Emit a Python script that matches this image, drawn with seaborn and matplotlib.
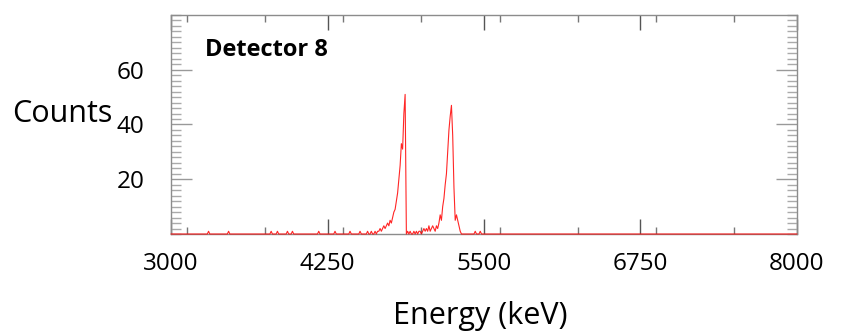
import numpy as np
import pandas as pd
import matplotlib
matplotlib.use("Agg")
import matplotlib.pyplot as plt
from matplotlib.ticker import MultipleLocator, FixedLocator
import seaborn as sns

# ---------------- data ----------------
# channel calibration of the spectrum grid (keV)
grid_start_kev = 3000
grid_end_kev = 8000
bin_width_kev = 10

# isolated single counts in the sparse regions
spike_energy_kev = [3300, 3460, 3800, 3850, 3930, 3970, 4180, 4310, 4430, 4510, 5430, 5470]
spike_counts = [1, 1, 1, 1, 1, 1, 1, 1, 1, 1, 1, 1]

# dense peak region, starting at this energy, one value per channel
peak_region_start_kev = 4560
peak_region_counts = [
    0, 1, 0, 0, 1, 0, 0, 1, 0, 1,      # 4560-4650
    1, 2, 1, 2, 3, 2, 3, 4, 3, 5,      # 4660-4750
    4, 6, 8, 9, 12, 15, 20, 25, 33, 31,  # 4760-4850
    44, 51, 0, 1, 0, 1, 0, 0, 1, 0,    # 4860-4950
    1, 0, 1, 1, 0, 1, 2, 1, 2, 1,      # 4960-5050
    3, 1, 2, 3, 2, 1, 3, 2, 4, 7,      # 5060-5150
    5, 10, 13, 18, 22, 30, 38, 43, 47, 36,  # 5160-5250
    17, 5, 7, 5, 3, 1, 0,              # 5260-5320
]

x_tick_labels = ["3000", "4250", "5500", "6750", "8000"]
y_tick_labels = ["20", "40", "60"]

# build full spectrum on the channel grid
energy = np.arange(grid_start_kev, grid_end_kev + bin_width_kev, bin_width_kev)
counts = np.zeros(len(energy))
for e, c in zip(spike_energy_kev, spike_counts):
    counts[(e - grid_start_kev) // bin_width_kev] = c
i0 = (peak_region_start_kev - grid_start_kev) // bin_width_kev
counts[i0:i0 + len(peak_region_counts)] = peak_region_counts
df = pd.DataFrame({"Energy": energy, "Counts": counts})

# ---------------- style ----------------
sns.set_style("white")
plt.rcParams["font.family"] = ["Open Sans", "DejaVu Sans"]
plt.rcParams["text.color"] = "black"
plt.rcParams["xtick.labelcolor"] = "black"
plt.rcParams["ytick.labelcolor"] = "black"
plt.rcParams["axes.labelcolor"] = "black"

fig = plt.figure(figsize=(8.45, 3.34), dpi=100)
ax = fig.add_axes([171 / 845, 1 - 234 / 334, 626 / 845, 219 / 334])

sns.lineplot(data=df, x="Energy", y="Counts", ax=ax, color="#ff0000",
             linewidth=0.8, alpha=0.85, clip_on=False, zorder=3)

ax.set_xlim(3000, 8000)
ax.set_ylim(0, 80)

ax.xaxis.set_major_locator(FixedLocator([float(t) for t in x_tick_labels]))
ax.set_xticklabels(x_tick_labels)
ax.xaxis.set_minor_locator(MultipleLocator(625))
ax.yaxis.set_major_locator(FixedLocator([float(t) for t in y_tick_labels]))
ax.set_yticklabels(y_tick_labels)
ax.yaxis.set_minor_locator(MultipleLocator(2))

spine_col = "#8c8c8c"
for s in ax.spines.values():
    s.set_color(spine_col)
    s.set_linewidth(1.0)
    s.set_visible(True)

ax.tick_params(axis="x", which="major", direction="in", length=11, width=1.0,
               color="#555555", top=True, bottom=True, labelsize=17.5, pad=13,
               labelcolor="black")
ax.tick_params(axis="x", which="minor", direction="in", length=5, width=1.0,
               color="#777777", top=True, bottom=True)
ax.tick_params(axis="y", which="major", direction="in", length=15, width=1.0,
               color="#999999", left=True, right=True, labelsize=17.5, pad=19,
               labelcolor="black")
ax.tick_params(axis="y", which="minor", direction="in", length=7.5, width=1.0,
               color="#aaaaaa", left=True, right=True)

ax.set_xlabel("Energy (keV)", fontsize=22, color="black", va="center")
ax.xaxis.set_label_coords(0.494, -0.374)
ax.set_ylabel("Counts", fontsize=22, rotation=0, ha="center", va="center",
              color="black")
ax.yaxis.set_label_coords(-0.174, 0.55)

ax.text(0.054, 0.84, "Detector 8", transform=ax.transAxes, fontsize=17,
        fontweight="bold", ha="left", va="center", color="black")

fig.savefig("out.png", dpi=100)
